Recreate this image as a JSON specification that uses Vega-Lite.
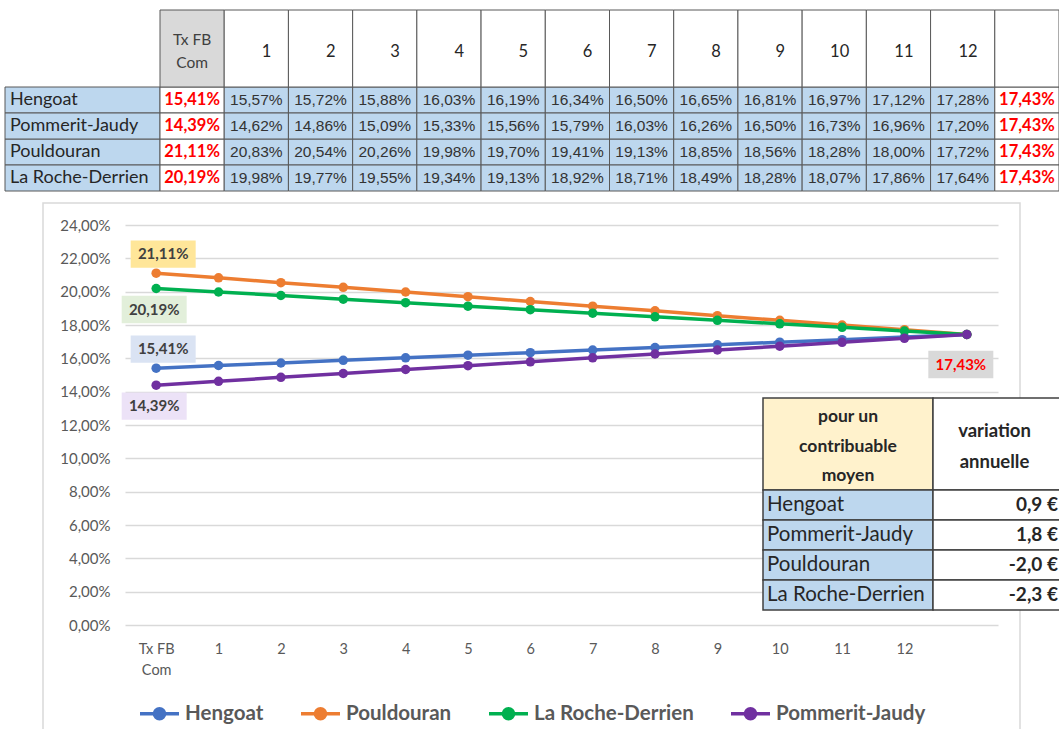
{
  "$schema": "https://vega.github.io/schema/vega-lite/v6.json",
  "width": 873,
  "height": 400,
  "autosize": {"type": "none"},
  "padding": {"left": 125, "top": 225, "right": 61, "bottom": 104},
  "background": "white",
  "config": {
    "locale": {"number": {"decimal": ",", "thousands": " ", "grouping": [3], "currency": ["", " €"], "minus": "-"}},
    "view": {"stroke": null},
    "font": "Lato"
  },
  "datasets": {
    "taux": [
      {"commune": "Hengoat", "periode": "Tx FB Com", "taux": 0.1541},
      {"commune": "Hengoat", "periode": "1", "taux": 0.1557},
      {"commune": "Hengoat", "periode": "2", "taux": 0.1572},
      {"commune": "Hengoat", "periode": "3", "taux": 0.1588},
      {"commune": "Hengoat", "periode": "4", "taux": 0.1603},
      {"commune": "Hengoat", "periode": "5", "taux": 0.1619},
      {"commune": "Hengoat", "periode": "6", "taux": 0.1634},
      {"commune": "Hengoat", "periode": "7", "taux": 0.1650},
      {"commune": "Hengoat", "periode": "8", "taux": 0.1665},
      {"commune": "Hengoat", "periode": "9", "taux": 0.1681},
      {"commune": "Hengoat", "periode": "10", "taux": 0.1697},
      {"commune": "Hengoat", "periode": "11", "taux": 0.1712},
      {"commune": "Hengoat", "periode": "12", "taux": 0.1728},
      {"commune": "Hengoat", "periode": "final", "taux": 0.1743},
      {"commune": "Pouldouran", "periode": "Tx FB Com", "taux": 0.2111},
      {"commune": "Pouldouran", "periode": "1", "taux": 0.2083},
      {"commune": "Pouldouran", "periode": "2", "taux": 0.2054},
      {"commune": "Pouldouran", "periode": "3", "taux": 0.2026},
      {"commune": "Pouldouran", "periode": "4", "taux": 0.1998},
      {"commune": "Pouldouran", "periode": "5", "taux": 0.1970},
      {"commune": "Pouldouran", "periode": "6", "taux": 0.1941},
      {"commune": "Pouldouran", "periode": "7", "taux": 0.1913},
      {"commune": "Pouldouran", "periode": "8", "taux": 0.1885},
      {"commune": "Pouldouran", "periode": "9", "taux": 0.1856},
      {"commune": "Pouldouran", "periode": "10", "taux": 0.1828},
      {"commune": "Pouldouran", "periode": "11", "taux": 0.1800},
      {"commune": "Pouldouran", "periode": "12", "taux": 0.1772},
      {"commune": "Pouldouran", "periode": "final", "taux": 0.1743},
      {"commune": "La Roche-Derrien", "periode": "Tx FB Com", "taux": 0.2019},
      {"commune": "La Roche-Derrien", "periode": "1", "taux": 0.1998},
      {"commune": "La Roche-Derrien", "periode": "2", "taux": 0.1977},
      {"commune": "La Roche-Derrien", "periode": "3", "taux": 0.1955},
      {"commune": "La Roche-Derrien", "periode": "4", "taux": 0.1934},
      {"commune": "La Roche-Derrien", "periode": "5", "taux": 0.1913},
      {"commune": "La Roche-Derrien", "periode": "6", "taux": 0.1892},
      {"commune": "La Roche-Derrien", "periode": "7", "taux": 0.1871},
      {"commune": "La Roche-Derrien", "periode": "8", "taux": 0.1849},
      {"commune": "La Roche-Derrien", "periode": "9", "taux": 0.1828},
      {"commune": "La Roche-Derrien", "periode": "10", "taux": 0.1807},
      {"commune": "La Roche-Derrien", "periode": "11", "taux": 0.1786},
      {"commune": "La Roche-Derrien", "periode": "12", "taux": 0.1764},
      {"commune": "La Roche-Derrien", "periode": "final", "taux": 0.1743},
      {"commune": "Pommerit-Jaudy", "periode": "Tx FB Com", "taux": 0.1439},
      {"commune": "Pommerit-Jaudy", "periode": "1", "taux": 0.1462},
      {"commune": "Pommerit-Jaudy", "periode": "2", "taux": 0.1486},
      {"commune": "Pommerit-Jaudy", "periode": "3", "taux": 0.1509},
      {"commune": "Pommerit-Jaudy", "periode": "4", "taux": 0.1533},
      {"commune": "Pommerit-Jaudy", "periode": "5", "taux": 0.1556},
      {"commune": "Pommerit-Jaudy", "periode": "6", "taux": 0.1579},
      {"commune": "Pommerit-Jaudy", "periode": "7", "taux": 0.1603},
      {"commune": "Pommerit-Jaudy", "periode": "8", "taux": 0.1626},
      {"commune": "Pommerit-Jaudy", "periode": "9", "taux": 0.1650},
      {"commune": "Pommerit-Jaudy", "periode": "10", "taux": 0.1673},
      {"commune": "Pommerit-Jaudy", "periode": "11", "taux": 0.1696},
      {"commune": "Pommerit-Jaudy", "periode": "12", "taux": 0.1720},
      {"commune": "Pommerit-Jaudy", "periode": "final", "taux": 0.1743}
    ],
    "entetes": [
      {"periode": "Tx FB Com", "libelle": "Tx FB\nCom"},
      {"periode": "1", "libelle": "1"},
      {"periode": "2", "libelle": "2"},
      {"periode": "3", "libelle": "3"},
      {"periode": "4", "libelle": "4"},
      {"periode": "5", "libelle": "5"},
      {"periode": "6", "libelle": "6"},
      {"periode": "7", "libelle": "7"},
      {"periode": "8", "libelle": "8"},
      {"periode": "9", "libelle": "9"},
      {"periode": "10", "libelle": "10"},
      {"periode": "11", "libelle": "11"},
      {"periode": "12", "libelle": "12"},
      {"periode": "final", "libelle": ""}
    ],
    "encart_entetes": [
      {"colonne": "commune", "libelle": "pour un\ncontribuable\nmoyen"},
      {"colonne": "variation", "libelle": "variation\nannuelle"}
    ],
    "variation": [
      {"commune": "Hengoat", "variation": 0.9},
      {"commune": "Pommerit-Jaudy", "variation": 1.8},
      {"commune": "Pouldouran", "variation": -2.0},
      {"commune": "La Roche-Derrien", "variation": -2.3}
    ],
    "cadre": [{"element": "cadre"}]
  },
  "resolve": {"scale": {"x": "independent", "y": "independent", "fill": "independent"}},
  "layer": [
    {
      "data": {"name": "cadre"},
      "mark": {"type": "rect", "fill": "transparent", "stroke": "#d9d9d9", "strokeWidth": 1.5},
      "encoding": {
        "x": {"field": "element", "type": "nominal", "scale": {"type": "band", "domain": ["cadre"], "range": [-82, 895], "paddingInner": 0, "paddingOuter": 0}, "axis": null},
        "y": {"field": "element", "type": "nominal", "scale": {"type": "band", "domain": ["cadre"], "range": [-22, 530], "paddingInner": 0, "paddingOuter": 0}, "axis": null}
      }
    },
    {
      "data": {"name": "taux"},
      "transform": [{"filter": "datum.periode == 'Tx FB Com'"}],
      "mark": {"type": "rect", "fill": "#bdd7ee", "stroke": "#595959", "strokeWidth": 1},
      "encoding": {
        "x": {"datum": "communes", "type": "nominal", "scale": {"type": "band", "domain": ["communes"], "range": [-120, 35], "paddingInner": 0, "paddingOuter": 0}, "axis": null},
        "y": {"field": "commune", "type": "nominal", "scale": {"type": "band", "domain": ["Hengoat", "Pommerit-Jaudy", "Pouldouran", "La Roche-Derrien"], "range": [-138, -34], "paddingInner": 0, "paddingOuter": 0}, "axis": null}
      }
    },
    {
      "data": {"name": "taux"},
      "transform": [{"filter": "datum.periode == 'Tx FB Com'"}],
      "mark": {"type": "text", "align": "left", "baseline": "middle", "dx": -72.5, "font": "Lato", "fontSize": 18, "color": "#262626"},
      "encoding": {
        "x": {"datum": "communes", "type": "nominal", "scale": {"type": "band", "domain": ["communes"], "range": [-120, 35], "paddingInner": 0, "paddingOuter": 0}, "axis": null},
        "y": {"field": "commune", "type": "nominal", "scale": {"type": "band", "domain": ["Hengoat", "Pommerit-Jaudy", "Pouldouran", "La Roche-Derrien"], "range": [-138, -34], "paddingInner": 0, "paddingOuter": 0}, "axis": null},
        "text": {"field": "commune", "type": "nominal"}
      }
    },
    {
      "data": {"name": "taux"},
      "mark": {"type": "rect", "stroke": "#595959", "strokeWidth": 1},
      "encoding": {
        "x": {"field": "periode", "type": "nominal", "scale": {"type": "band", "domain": ["Tx FB Com", "1", "2", "3", "4", "5", "6", "7", "8", "9", "10", "11", "12", "final"], "range": [35, 934], "paddingInner": 0, "paddingOuter": 0}, "axis": null},
        "y": {"field": "commune", "type": "nominal", "scale": {"type": "band", "domain": ["Hengoat", "Pommerit-Jaudy", "Pouldouran", "La Roche-Derrien"], "range": [-138, -34], "paddingInner": 0, "paddingOuter": 0}, "axis": null},
        "fill": {"condition": {"test": "datum.periode == 'Tx FB Com' || datum.periode == 'final'", "value": "white"}, "value": "#bdd7ee"}
      }
    },
    {
      "data": {"name": "taux"},
      "transform": [{"filter": "datum.periode != 'Tx FB Com' && datum.periode != 'final'"}],
      "mark": {"type": "text", "align": "center", "baseline": "middle", "font": "Liberation Sans", "fontSize": 15.5, "color": "#333333"},
      "encoding": {
        "x": {"field": "periode", "type": "nominal", "scale": {"type": "band", "domain": ["Tx FB Com", "1", "2", "3", "4", "5", "6", "7", "8", "9", "10", "11", "12", "final"], "range": [35, 934], "paddingInner": 0, "paddingOuter": 0}, "axis": null},
        "y": {"field": "commune", "type": "nominal", "scale": {"type": "band", "domain": ["Hengoat", "Pommerit-Jaudy", "Pouldouran", "La Roche-Derrien"], "range": [-138, -34], "paddingInner": 0, "paddingOuter": 0}, "axis": null},
        "text": {"field": "taux", "type": "quantitative", "format": ".2%"}
      }
    },
    {
      "data": {"name": "taux"},
      "transform": [{"filter": "datum.periode == 'Tx FB Com' || datum.periode == 'final'"}],
      "mark": {"type": "text", "align": "center", "baseline": "middle", "font": "Lato", "fontWeight": "bold", "fontSize": 16.5, "color": "#ff0000"},
      "encoding": {
        "x": {"field": "periode", "type": "nominal", "scale": {"type": "band", "domain": ["Tx FB Com", "1", "2", "3", "4", "5", "6", "7", "8", "9", "10", "11", "12", "final"], "range": [35, 934], "paddingInner": 0, "paddingOuter": 0}, "axis": null},
        "y": {"field": "commune", "type": "nominal", "scale": {"type": "band", "domain": ["Hengoat", "Pommerit-Jaudy", "Pouldouran", "La Roche-Derrien"], "range": [-138, -34], "paddingInner": 0, "paddingOuter": 0}, "axis": null},
        "text": {"field": "taux", "type": "quantitative", "format": ".2%"}
      }
    },
    {
      "data": {"name": "entetes"},
      "mark": {"type": "rect", "stroke": "#595959", "strokeWidth": 1},
      "encoding": {
        "x": {"field": "periode", "type": "nominal", "scale": {"type": "band", "domain": ["Tx FB Com", "1", "2", "3", "4", "5", "6", "7", "8", "9", "10", "11", "12", "final"], "range": [35, 934], "paddingInner": 0, "paddingOuter": 0}, "axis": null},
        "y": {"datum": "entete", "type": "nominal", "scale": {"type": "band", "domain": ["entete"], "range": [-215, -138], "paddingInner": 0, "paddingOuter": 0}, "axis": null},
        "fill": {"condition": {"test": "datum.periode == 'Tx FB Com'", "value": "#d9d9d9"}, "value": "white"}
      }
    },
    {
      "data": {"name": "entetes"},
      "transform": [{"filter": "datum.periode == 'Tx FB Com'"}],
      "mark": {"type": "text", "align": "center", "baseline": "middle", "dy": -9, "lineBreak": "\n", "lineHeight": 23, "font": "Lato", "fontSize": 15.5, "color": "#404040"},
      "encoding": {
        "x": {"field": "periode", "type": "nominal", "scale": {"type": "band", "domain": ["Tx FB Com", "1", "2", "3", "4", "5", "6", "7", "8", "9", "10", "11", "12", "final"], "range": [35, 934], "paddingInner": 0, "paddingOuter": 0}, "axis": null},
        "y": {"datum": "entete", "type": "nominal", "scale": {"type": "band", "domain": ["entete"], "range": [-215, -138], "paddingInner": 0, "paddingOuter": 0}, "axis": null},
        "text": {"field": "libelle", "type": "nominal"}
      }
    },
    {
      "data": {"name": "entetes"},
      "transform": [{"filter": "datum.periode != 'Tx FB Com'"}],
      "mark": {"type": "text", "align": "right", "baseline": "middle", "dx": 15, "dy": 3, "font": "Lato", "fontSize": 16.5, "color": "#262626"},
      "encoding": {
        "x": {"field": "periode", "type": "nominal", "scale": {"type": "band", "domain": ["Tx FB Com", "1", "2", "3", "4", "5", "6", "7", "8", "9", "10", "11", "12", "final"], "range": [35, 934], "paddingInner": 0, "paddingOuter": 0}, "axis": null},
        "y": {"datum": "entete", "type": "nominal", "scale": {"type": "band", "domain": ["entete"], "range": [-215, -138], "paddingInner": 0, "paddingOuter": 0}, "axis": null},
        "text": {"field": "libelle", "type": "nominal"}
      }
    },
    {
      "data": {"name": "taux"},
      "mark": {"type": "line", "strokeWidth": 3.5, "point": {"filled": true, "size": 90, "opacity": 1}},
      "encoding": {
        "x": {"field": "periode", "type": "ordinal", "scale": {"type": "point", "domain": ["Tx FB Com", "1", "2", "3", "4", "5", "6", "7", "8", "9", "10", "11", "12", "final"], "padding": 0.5},
          "axis": {"orient": "bottom", "title": null, "domain": false, "ticks": false, "grid": false, "labelAngle": 0, "labelPadding": 17, "labelFont": "Lato", "labelFontSize": 14.5, "labelColor": "#595959", "labelLineHeight": 21,
            "labelExpr": "datum.value == 'Tx FB Com' ? ['Tx FB', 'Com'] : (datum.value == 'final' ? '' : datum.value)"}},
        "y": {"field": "taux", "type": "quantitative", "scale": {"domain": [0, 0.24], "nice": false, "zero": true},
          "axis": {"orient": "left", "title": null, "values": [0, 0.02, 0.04, 0.06, 0.08, 0.1, 0.12, 0.14, 0.16, 0.18, 0.2, 0.22, 0.24], "format": ".2%", "domain": false, "ticks": false, "grid": true, "gridColor": "#d9d9d9", "gridWidth": 1.3, "labelFont": "Lato", "labelFontSize": 15, "labelColor": "#595959", "labelPadding": 15}},
        "color": {"field": "commune", "type": "nominal",
          "scale": {"domain": ["Hengoat", "Pouldouran", "La Roche-Derrien", "Pommerit-Jaudy"], "range": ["#4472c4", "#ed7d31", "#00b050", "#7030a0"]},
          "legend": {"title": null, "orient": "none", "legendX": 13, "legendY": 467, "direction": "horizontal", "padding": 0,
            "symbolType": "M-1,0H1M0.26,0A0.26,0.26,0,1,1,-0.26,0A0.26,0.26,0,1,1,0.26,0",
            "symbolSize": 1521, "symbolStrokeWidth": 3.5, "labelFont": "Lato", "labelFontSize": 20.5, "labelFontWeight": "bold", "labelColor": "#595959", "labelOffset": 4, "labelLimit": 400, "columnPadding": 30,
            "encode": {"symbols": {"update": {"fill": {"scale": "color", "field": "value"}}}}}},
        "order": {"value": null}
      }
    },
    {
      "data": {"name": "taux"},
      "transform": [{"filter": "datum.periode == 'Tx FB Com' && (datum.commune == 'Pouldouran' || datum.commune == 'Hengoat')"}],
      "mark": {"type": "point", "shape": "M-1,-0.42H1V0.42H-1Z", "filled": true, "size": 4225, "opacity": 1, "xOffset": 7, "yOffset": -19},
      "encoding": {
        "x": {"field": "periode", "type": "ordinal", "scale": {"type": "point", "domain": ["Tx FB Com", "1", "2", "3", "4", "5", "6", "7", "8", "9", "10", "11", "12", "final"], "padding": 0.5}, "axis": null},
        "y": {"field": "taux", "type": "quantitative", "scale": {"domain": [0, 0.24], "nice": false, "zero": true}, "axis": null},
        "fill": {"field": "commune", "type": "nominal", "scale": {"domain": ["Hengoat", "Pouldouran", "La Roche-Derrien", "Pommerit-Jaudy"], "range": ["#dae3f3", "#ffe699", "#e2efda", "#ece2f7"]}, "legend": null}
      }
    },
    {
      "data": {"name": "taux"},
      "transform": [{"filter": "datum.periode == 'Tx FB Com' && (datum.commune == 'Pouldouran' || datum.commune == 'Hengoat')"}],
      "mark": {"type": "text", "align": "center", "baseline": "middle", "dx": 7, "dy": -19, "font": "Lato", "fontWeight": "bold", "fontSize": 15, "color": "#404040"},
      "encoding": {
        "x": {"field": "periode", "type": "ordinal", "scale": {"type": "point", "domain": ["Tx FB Com", "1", "2", "3", "4", "5", "6", "7", "8", "9", "10", "11", "12", "final"], "padding": 0.5}, "axis": null},
        "y": {"field": "taux", "type": "quantitative", "scale": {"domain": [0, 0.24], "nice": false, "zero": true}, "axis": null},
        "text": {"field": "taux", "type": "quantitative", "format": ".2%"}
      }
    },
    {
      "data": {"name": "taux"},
      "transform": [{"filter": "datum.periode == 'Tx FB Com' && (datum.commune == 'La Roche-Derrien' || datum.commune == 'Pommerit-Jaudy')"}],
      "mark": {"type": "point", "shape": "M-1,-0.42H1V0.42H-1Z", "filled": true, "size": 4225, "opacity": 1, "xOffset": -2, "yOffset": 21},
      "encoding": {
        "x": {"field": "periode", "type": "ordinal", "scale": {"type": "point", "domain": ["Tx FB Com", "1", "2", "3", "4", "5", "6", "7", "8", "9", "10", "11", "12", "final"], "padding": 0.5}, "axis": null},
        "y": {"field": "taux", "type": "quantitative", "scale": {"domain": [0, 0.24], "nice": false, "zero": true}, "axis": null},
        "fill": {"field": "commune", "type": "nominal", "scale": {"domain": ["Hengoat", "Pouldouran", "La Roche-Derrien", "Pommerit-Jaudy"], "range": ["#dae3f3", "#ffe699", "#e2efda", "#ece2f7"]}, "legend": null}
      }
    },
    {
      "data": {"name": "taux"},
      "transform": [{"filter": "datum.periode == 'Tx FB Com' && (datum.commune == 'La Roche-Derrien' || datum.commune == 'Pommerit-Jaudy')"}],
      "mark": {"type": "text", "align": "center", "baseline": "middle", "dx": -2, "dy": 21, "font": "Lato", "fontWeight": "bold", "fontSize": 15, "color": "#404040"},
      "encoding": {
        "x": {"field": "periode", "type": "ordinal", "scale": {"type": "point", "domain": ["Tx FB Com", "1", "2", "3", "4", "5", "6", "7", "8", "9", "10", "11", "12", "final"], "padding": 0.5}, "axis": null},
        "y": {"field": "taux", "type": "quantitative", "scale": {"domain": [0, 0.24], "nice": false, "zero": true}, "axis": null},
        "text": {"field": "taux", "type": "quantitative", "format": ".2%"}
      }
    },
    {
      "data": {"name": "taux"},
      "transform": [{"filter": "datum.periode == 'final' && datum.commune == 'Pommerit-Jaudy'"}],
      "mark": {"type": "point", "shape": "M-1,-0.42H1V0.42H-1Z", "filled": true, "size": 4225, "opacity": 1, "color": "#d9d9d9", "xOffset": -6, "yOffset": 30},
      "encoding": {
        "x": {"field": "periode", "type": "ordinal", "scale": {"type": "point", "domain": ["Tx FB Com", "1", "2", "3", "4", "5", "6", "7", "8", "9", "10", "11", "12", "final"], "padding": 0.5}, "axis": null},
        "y": {"field": "taux", "type": "quantitative", "scale": {"domain": [0, 0.24], "nice": false, "zero": true}, "axis": null}
      }
    },
    {
      "data": {"name": "taux"},
      "transform": [{"filter": "datum.periode == 'final' && datum.commune == 'Pommerit-Jaudy'"}],
      "mark": {"type": "text", "align": "center", "baseline": "middle", "dx": -6, "dy": 30, "font": "Lato", "fontWeight": "bold", "fontSize": 15, "color": "#ff0000"},
      "encoding": {
        "x": {"field": "periode", "type": "ordinal", "scale": {"type": "point", "domain": ["Tx FB Com", "1", "2", "3", "4", "5", "6", "7", "8", "9", "10", "11", "12", "final"], "padding": 0.5}, "axis": null},
        "y": {"field": "taux", "type": "quantitative", "scale": {"domain": [0, 0.24], "nice": false, "zero": true}, "axis": null},
        "text": {"field": "taux", "type": "quantitative", "format": ".2%"}
      }
    },
    {
      "data": {"name": "encart_entetes"},
      "transform": [{"filter": "datum.colonne == 'commune'"}],
      "mark": {"type": "rect", "fill": "#fff2cc", "stroke": "#404040", "strokeWidth": 1.5},
      "encoding": {
        "x": {"field": "colonne", "type": "nominal", "scale": {"type": "band", "domain": ["commune"], "range": [638, 808], "paddingInner": 0, "paddingOuter": 0}, "axis": null},
        "y": {"datum": "entete", "type": "nominal", "scale": {"type": "band", "domain": ["entete"], "range": [173, 265], "paddingInner": 0, "paddingOuter": 0}, "axis": null}
      }
    },
    {
      "data": {"name": "encart_entetes"},
      "transform": [{"filter": "datum.colonne == 'commune'"}],
      "mark": {"type": "text", "align": "center", "baseline": "middle", "dy": -27, "lineBreak": "\n", "lineHeight": 29.5, "font": "Lato", "fontWeight": "bold", "fontSize": 17.5, "color": "#262626"},
      "encoding": {
        "x": {"field": "colonne", "type": "nominal", "scale": {"type": "band", "domain": ["commune"], "range": [638, 808], "paddingInner": 0, "paddingOuter": 0}, "axis": null},
        "y": {"datum": "entete", "type": "nominal", "scale": {"type": "band", "domain": ["entete"], "range": [173, 265], "paddingInner": 0, "paddingOuter": 0}, "axis": null},
        "text": {"field": "libelle", "type": "nominal"}
      }
    },
    {
      "data": {"name": "encart_entetes"},
      "transform": [{"filter": "datum.colonne == 'variation'"}],
      "mark": {"type": "rect", "fill": "white", "stroke": "#404040", "strokeWidth": 1.5},
      "encoding": {
        "x": {"field": "colonne", "type": "nominal", "scale": {"type": "band", "domain": ["variation"], "range": [808, 941], "paddingInner": 0, "paddingOuter": 0}, "axis": null},
        "y": {"datum": "entete", "type": "nominal", "scale": {"type": "band", "domain": ["entete"], "range": [173, 265], "paddingInner": 0, "paddingOuter": 0}, "axis": null}
      }
    },
    {
      "data": {"name": "encart_entetes"},
      "transform": [{"filter": "datum.colonne == 'variation'"}],
      "mark": {"type": "text", "align": "center", "baseline": "middle", "dx": -5, "dy": -13, "lineBreak": "\n", "lineHeight": 31, "font": "Lato", "fontWeight": "bold", "fontSize": 18.5, "color": "#262626"},
      "encoding": {
        "x": {"field": "colonne", "type": "nominal", "scale": {"type": "band", "domain": ["variation"], "range": [808, 941], "paddingInner": 0, "paddingOuter": 0}, "axis": null},
        "y": {"datum": "entete", "type": "nominal", "scale": {"type": "band", "domain": ["entete"], "range": [173, 265], "paddingInner": 0, "paddingOuter": 0}, "axis": null},
        "text": {"field": "libelle", "type": "nominal"}
      }
    },
    {
      "data": {"name": "variation"},
      "mark": {"type": "rect", "fill": "#bdd7ee", "stroke": "#404040", "strokeWidth": 1.5},
      "encoding": {
        "x": {"datum": "commune", "type": "nominal", "scale": {"type": "band", "domain": ["commune"], "range": [638, 808], "paddingInner": 0, "paddingOuter": 0}, "axis": null},
        "y": {"field": "commune", "type": "nominal", "scale": {"type": "band", "domain": ["Hengoat", "Pommerit-Jaudy", "Pouldouran", "La Roche-Derrien"], "range": [265, 385], "paddingInner": 0, "paddingOuter": 0}, "axis": null}
      }
    },
    {
      "data": {"name": "variation"},
      "mark": {"type": "text", "align": "left", "baseline": "middle", "dx": -81, "font": "Lato", "fontSize": 20.5, "color": "#262626"},
      "encoding": {
        "x": {"datum": "commune", "type": "nominal", "scale": {"type": "band", "domain": ["commune"], "range": [638, 808], "paddingInner": 0, "paddingOuter": 0}, "axis": null},
        "y": {"field": "commune", "type": "nominal", "scale": {"type": "band", "domain": ["Hengoat", "Pommerit-Jaudy", "Pouldouran", "La Roche-Derrien"], "range": [265, 385], "paddingInner": 0, "paddingOuter": 0}, "axis": null},
        "text": {"field": "commune", "type": "nominal"}
      }
    },
    {
      "data": {"name": "variation"},
      "mark": {"type": "rect", "fill": "white", "stroke": "#404040", "strokeWidth": 1.5},
      "encoding": {
        "x": {"datum": "variation", "type": "nominal", "scale": {"type": "band", "domain": ["variation"], "range": [808, 941], "paddingInner": 0, "paddingOuter": 0}, "axis": null},
        "y": {"field": "commune", "type": "nominal", "scale": {"type": "band", "domain": ["Hengoat", "Pommerit-Jaudy", "Pouldouran", "La Roche-Derrien"], "range": [265, 385], "paddingInner": 0, "paddingOuter": 0}, "axis": null}
      }
    },
    {
      "data": {"name": "variation"},
      "mark": {"type": "text", "align": "right", "baseline": "middle", "dx": 58.5, "font": "Lato", "fontWeight": "bold", "fontSize": 19, "color": "#262626"},
      "encoding": {
        "x": {"datum": "variation", "type": "nominal", "scale": {"type": "band", "domain": ["variation"], "range": [808, 941], "paddingInner": 0, "paddingOuter": 0}, "axis": null},
        "y": {"field": "commune", "type": "nominal", "scale": {"type": "band", "domain": ["Hengoat", "Pommerit-Jaudy", "Pouldouran", "La Roche-Derrien"], "range": [265, 385], "paddingInner": 0, "paddingOuter": 0}, "axis": null},
        "text": {"field": "variation", "type": "quantitative", "format": "$.1f"}
      }
    }
  ]
}
